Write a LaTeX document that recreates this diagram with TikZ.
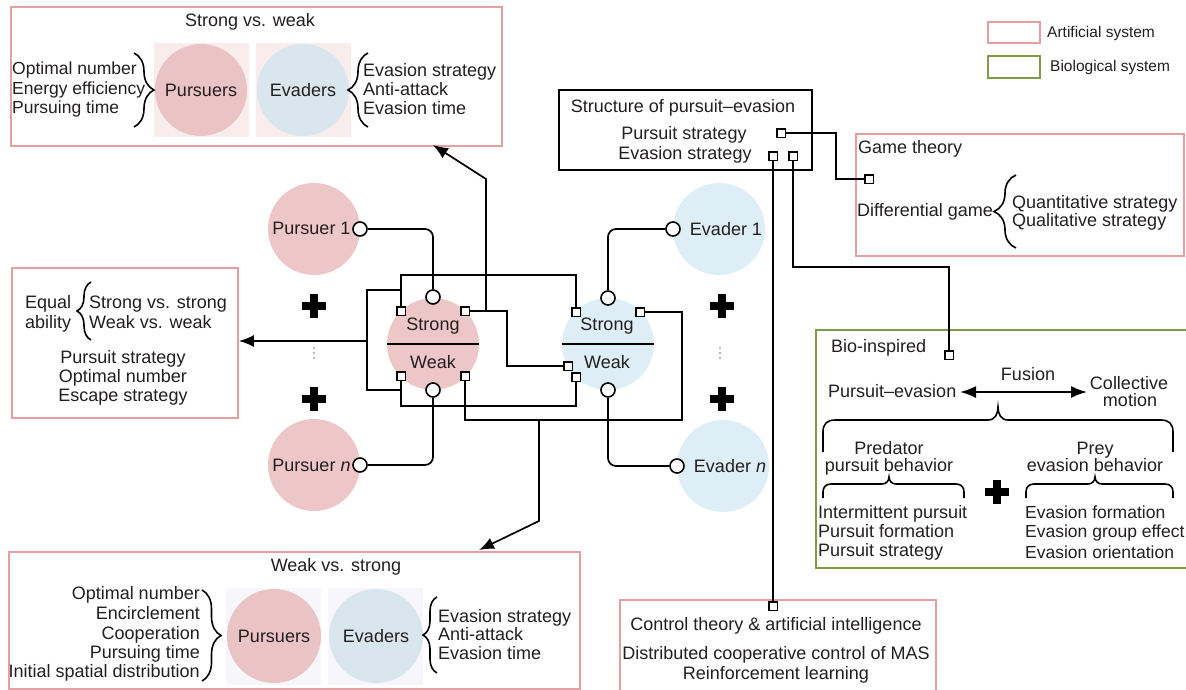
\documentclass[tikz,border=0pt]{standalone}
\usepackage{fontspec}
\setmainfont{Liberation Sans}
\usetikzlibrary{arrows.meta,decorations.pathreplacing}
\definecolor{txtc}{HTML}{231F20}
\definecolor{pinkline}{HTML}{E2A0A2}
\definecolor{greenline}{HTML}{7F9A48}
\definecolor{pinkfill}{HTML}{EDC7C8}
\definecolor{bluefill}{HTML}{DDEEF6}
\definecolor{pinkfillB}{HTML}{EAC4C4}
\definecolor{bluefillB}{HTML}{D9E6EE}
\definecolor{bgpink}{HTML}{F9ECEC}
\definecolor{bglav}{HTML}{F7F6FB}
\definecolor{dotgray}{HTML}{707070}
\begin{document}
\begin{tikzpicture}[x=1pt,y=-1pt,
  txt/.style={font=\fontsize{18}{20}\selectfont, text=txtc, inner sep=0pt},
  txn/.style={font=\fontsize{17.5}{19.5}\selectfont, text=txtc, inner sep=0pt},
  txs/.style={font=\fontsize{15.5}{18}\selectfont, text=txtc, inner sep=0pt},
  pinkbox/.style={draw=pinkline, line width=1.9pt, inner sep=0pt, anchor=north west},
  greenbox/.style={draw=greenline, line width=1.9pt, inner sep=0pt, anchor=north west},
  blackbox/.style={draw=black, line width=1.7pt, inner sep=0pt, anchor=north west},
  bgsq/.style={inner sep=0pt, anchor=north west, minimum width=95pt, minimum height=95pt},
  pcirc/.style={circle, fill=pinkfill, inner sep=0pt, minimum size=92pt, txt},
  bcirc/.style={circle, fill=bluefill, inner sep=0pt, minimum size=92pt, txt},
  sqport/.style={draw=black, fill=white, line width=1.5pt, minimum size=8.5pt, inner sep=0pt},
  cport/.style={circle, draw=black, fill=white, line width=1.6pt, minimum size=14pt, inner sep=0pt},
  wire/.style={line width=1.7pt, draw=black},
  rwire/.style={wire, rounded corners=8pt},
  arr/.style={wire, -{Latex[length=15pt,width=12pt]}},
  plussign/.style={line width=8pt, draw=black},
  brc/.style={line width=1.6pt, draw=black, decorate, decoration={brace, amplitude=#1}},
  cbrc/.style={line width=1.6pt, draw=black}
]
\useasboundingbox (0,0) rectangle (1186,689);
\fill[white] (0,0) rectangle (1186,689);

% ---------- legend
\node[pinkbox, minimum width=52pt, minimum height=21pt] (legA) at (987,21) {};
\node[greenbox, minimum width=52pt, minimum height=22pt] (legB) at (987,55) {};
\node[txs, anchor=base west] (legAt) at (1047,37.5) {Artificial system};
\node[txs, anchor=base west] (legBt) at (1050,71.5) {Biological system};

% ---------- Strong vs. weak box
\node[pinkbox, minimum width=491pt, minimum height=139pt] (swbox) at (10,6) {};
\node[txt, anchor=base] (swtitle) at (250,26) {Strong vs. weak};
\node[bgsq, fill=bgpink, minimum height=94pt] (swbgP) at (154,43) {};
\node[bgsq, fill=bgpink, minimum height=94pt] (swbgE) at (256,43) {};
\node[pcirc, fill=pinkfillB] (swP) at (201,90) {Pursuers};
\node[bcirc, fill=bluefillB] (swE) at (303,90) {Evaders};
\node[txn, anchor=base west] (swl1) at (12,74) {Optimal number};
\node[txn, anchor=base west] (swl2) at (12,94) {Energy efficiency};
\node[txn, anchor=base west] (swl3) at (12,113) {Pursuing time};
\draw[brc=20] (134,53) -- (134,127);
\draw[brc=20] (368,127) -- (368,53);
\node[txt, anchor=base west] (swr1) at (363,76) {Evasion strategy};
\node[txt, anchor=base west] (swr2) at (363,95) {Anti-attack};
\node[txt, anchor=base west] (swr3) at (363,114) {Evasion time};

% ---------- Equal ability box
\node[pinkbox, minimum width=226pt, minimum height=150pt] (eqbox) at (11,267) {};
\node[txt, anchor=base west] (eq1) at (25,308) {Equal};
\node[txt, anchor=base west] (eq2) at (25,328) {ability};
\draw[brc=14] (91,340) -- (91,282);
\node[txt, anchor=base west] (eq3) at (89,308) {Strong vs. strong};
\node[txt, anchor=base west] (eq4) at (89,328) {Weak vs. weak};
\node[txt, anchor=base] (eq5) at (123,363) {Pursuit strategy};
\node[txt, anchor=base] (eq6) at (123,382) {Optimal number};
\node[txt, anchor=base] (eq7) at (123,401) {Escape strategy};

% ---------- Weak vs. strong box
\node[pinkbox, minimum width=571pt, minimum height=137pt] (wsbox) at (8,551) {};
\node[txt, anchor=base] (wstitle) at (336,571) {Weak vs. strong};
\node[bgsq, fill=bglav, minimum height=97pt] (wsbgP) at (226,588) {};
\node[bgsq, fill=bglav, minimum height=97pt] (wsbgE) at (328,588) {};
\node[pcirc, fill=pinkfillB, minimum size=94pt] (wsP) at (274,636) {Pursuers};
\node[bcirc, fill=bluefillB, minimum size=94pt] (wsE) at (376,636) {Evaders};
\node[txt, anchor=base east] (wsl1) at (200,599) {Optimal number};
\node[txt, anchor=base east] (wsl2) at (200,619) {Encirclement};
\node[txt, anchor=base east] (wsl3) at (200,639) {Cooperation};
\node[txt, anchor=base east] (wsl4) at (200,658) {Pursuing time};
\node[txt, anchor=base east] (wsl5) at (200,677) {Initial spatial distribution};
\draw[brc=19] (202,590) -- (202,681);
\draw[brc=14] (437,673) -- (437,597);
\node[txt, anchor=base west] (wsr1) at (438,622) {Evasion strategy};
\node[txt, anchor=base west] (wsr2) at (438,640) {Anti-attack};
\node[txt, anchor=base west] (wsr3) at (438,659) {Evasion time};

% ---------- Structure box
\node[blackbox, minimum width=253pt, minimum height=80pt] (stbox) at (558,89) {};
\node[txt, anchor=base] (sttitle) at (683,112) {Structure of pursuit–evasion};
\node[txt, anchor=base] (st1) at (684,139) {Pursuit strategy};
\node[txt, anchor=base] (st2) at (685,159) {Evasion strategy};
\node[sqport] (sP) at (781,133) {};
\node[sqport] (sE1) at (773,156) {};
\node[sqport] (sE2) at (793,156) {};

% ---------- Game theory box
\node[pinkbox, minimum width=328pt, minimum height=122pt] (gtbox) at (855,133) {};
\node[txt, anchor=base west] (gt1) at (858,153) {Game theory};
\node[sqport] (gt) at (869,179) {};
\node[txt, anchor=base west] (gt2) at (857,216) {Differential game};
\draw[brc=22] (1016,248) -- (1016,175);
\node[txt, anchor=base west] (gt3) at (1012,208) {Quantitative strategy};
\node[txt, anchor=base west] (gt4) at (1012,226) {Qualitative strategy};

% ---------- Bio-inspired box
\node[greenbox, minimum width=381pt, minimum height=238pt] (biobox) at (815,329) {};
\node[txt, anchor=base west] (bio1) at (831,352) {Bio-inspired};
\node[sqport] (bio) at (949,355) {};
\node[txt, anchor=base west] (pe) at (828,397) {Pursuit–evasion};
\node[txt, anchor=base] (fus) at (1028,380) {Fusion};
\node[txt, anchor=base] (coll1) at (1129,389) {Collective};
\node[txt, anchor=base] (coll2) at (1130,406) {motion};
\coordinate (fa) at (960,392);
\coordinate (fb) at (1087,392);
\draw[wire, {Latex[length=16pt,width=12pt]}-{Latex[length=16pt,width=12pt]}] (fa) -- (fb);
\draw[cbrc] (823,452) -- (823,432) .. controls (823,424) and (827,420) .. (835,420) -- (988,420)
  .. controls (995,420) and (998,414) .. (998,407) .. controls (998,414) and (1001,420) .. (1008,420)
  -- (1161,420) .. controls (1169,420) and (1173,424) .. (1173,432) -- (1173,452);
\node[txt, anchor=base] (pred1) at (889,454) {Predator};
\node[txt, anchor=base] (pred2) at (889,471) {pursuit behavior};
\node[txt, anchor=base] (prey1) at (1095,454) {Prey};
\node[txt, anchor=base] (prey2) at (1095,471) {evasion behavior};
\draw[cbrc] (823,498) -- (823,492) .. controls (823,487) and (826,484) .. (831,484) -- (882,484)
  .. controls (886,484) and (889,481) .. (889,477) .. controls (889,481) and (892,484) .. (896,484)
  -- (956,484) .. controls (961,484) and (964,487) .. (964,492) -- (964,498);
\draw[cbrc] (1026,498) -- (1026,492) .. controls (1026,487) and (1029,484) .. (1034,484) -- (1088,484)
  .. controls (1092,484) and (1095,481) .. (1095,477) .. controls (1095,481) and (1098,484) .. (1102,484)
  -- (1165,484) .. controls (1170,484) and (1173,487) .. (1173,492) -- (1173,498);
\draw[plussign] (985,492) -- (1009,492) (997,480) -- (997,504);
\node[txt, anchor=base west] (pl1) at (818,518) {Intermittent pursuit};
\node[txt, anchor=base west] (pl2) at (818,537) {Pursuit formation};
\node[txt, anchor=base west] (pl3) at (818,556) {Pursuit strategy};
\node[txn, anchor=base west] (pr1) at (1025,518) {Evasion formation};
\node[txn, anchor=base west] (pr2) at (1025,537) {Evasion group effect};
\node[txn, anchor=base west] (pr3) at (1025,558) {Evasion orientation};

% ---------- Control theory box
\node[pinkbox, minimum width=316pt, minimum height=97pt] (ctbox) at (619,599) {};
\node[sqport] (ctrl) at (773,606) {};
\node[txt, anchor=base] (ct1) at (776,630) {Control theory \& artificial intelligence};
\node[txt, anchor=base] (ct2) at (776,659) {Distributed cooperative control of MAS};
\node[txt, anchor=base] (ct3) at (776,679) {Reinforcement learning};

% ---------- central agents
\node[pcirc] (p1) at (314,229) {};
\node[txt, anchor=base] (p1t) at (311.5,234) {Pursuer 1};
\node[pcirc] (pn) at (314,465) {};
\node[txt, anchor=base] (pnt) at (311.5,471) {Pursuer \textit{n}};
\node[bcirc] (e1) at (719,229) {};
\node[txt, anchor=base] (e1t) at (726,235) {Evader 1};
\node[bcirc] (en) at (723,466) {};
\node[txt, anchor=base] (ent) at (730,472) {Evader \textit{n}};
\draw[plussign] (302,306) -- (326,306) (314,294) -- (314,318);
\draw[plussign] (302,399) -- (326,399) (314,387) -- (314,411);
\draw[plussign] (710,306) -- (734,306) (722,294) -- (722,318);
\draw[plussign] (710,399) -- (734,399) (722,387) -- (722,411);
\fill[dotgray] (314,348) circle[radius=0.9pt] (314,353) circle[radius=0.9pt] (314,358) circle[radius=0.9pt];
\fill[dotgray] (720,348) circle[radius=0.9pt] (720,353) circle[radius=0.9pt] (720,358) circle[radius=0.9pt];

\node[pcirc] (psw) at (433,344) {};
\node[bcirc] (esw) at (608,344) {};
\draw[wire] (psw.west) -- (psw.east);
\draw[wire] (esw.west) -- (esw.east);
\node[txt, anchor=base] (pst) at (433,330) {Strong};
\node[txt, anchor=base] (pwk) at (433,368) {Weak};
\node[txt, anchor=base] (est) at (607,330) {Strong};
\node[txt, anchor=base] (ewk) at (607,368) {Weak};

% ports
\node[cport] (p1port) at (360,229) {};
\node[cport] (pnport) at (360,465) {};
\node[cport] (e1port) at (673,229) {};
\node[cport] (enport) at (677,466) {};
\node[cport] (pTop) at (433,297) {};
\node[cport] (pBot) at (433,390) {};
\node[cport] (eTop) at (608,298) {};
\node[cport] (eBot) at (608,390) {};
\node[sqport] (pTL) at (401,311) {};
\node[sqport] (pTR) at (465,311) {};
\node[sqport] (pBL) at (401,376) {};
\node[sqport] (pBR) at (465,376) {};
\node[sqport] (eTL) at (576,312) {};
\node[sqport] (eTR) at (640,312) {};
\node[sqport] (eML) at (568,366) {};
\node[sqport] (eBL) at (576,377) {};

% ---------- wires
\draw[rwire] (p1port) -| (pTop);
\draw[rwire] (pnport) -| (pBot);
\draw[rwire] (e1port) -| (eTop);
\draw[rwire] (enport) -| (eBot);

\coordinate (topbar) at (490,275);
\draw[wire] (pTL) |- (topbar) -| (eTL);
\coordinate (botbar) at (490,406);
\draw[wire] (pBL) |- (botbar) -| (eBL);
\coordinate (lbT) at (367,290);
\coordinate (lbB) at (367,390);
\coordinate (lbM) at (367,341);
\draw[wire] (pTL |- lbT) -- (lbT) -- (lbB) -- (pBL |- lbB);
\draw[arr] (lbM) -- (lbM -| eqbox.east);

\coordinate (j1) at (507,366);
\draw[wire] (pTR) -| (j1) -- (eML);
\coordinate (swup) at (486,179);
\coordinate (swtip) at (433,145);
\draw[arr] (pTR -| swup) -- (swup) -- (swtip);

\coordinate (rbB) at (682,420);
\coordinate (rbT) at (682,312);
\draw[wire] (pBR) |- (rbB) -- (rbT) -- (eTR);
\coordinate (ws1) at (539,420);
\coordinate (ws2) at (539,521);
\coordinate (wstip) at (479,550);
\draw[arr] (ws1) -- (ws2) -- (wstip);

\coordinate (g1) at (836,156);
\draw[wire] (sP) -| (g1) |- (gt);
\draw[wire] (sE1) -- (ctrl);
\coordinate (b1) at (870,267);
\draw[wire] (sE2) |- (b1) -| (bio);
\end{tikzpicture}
\end{document}
